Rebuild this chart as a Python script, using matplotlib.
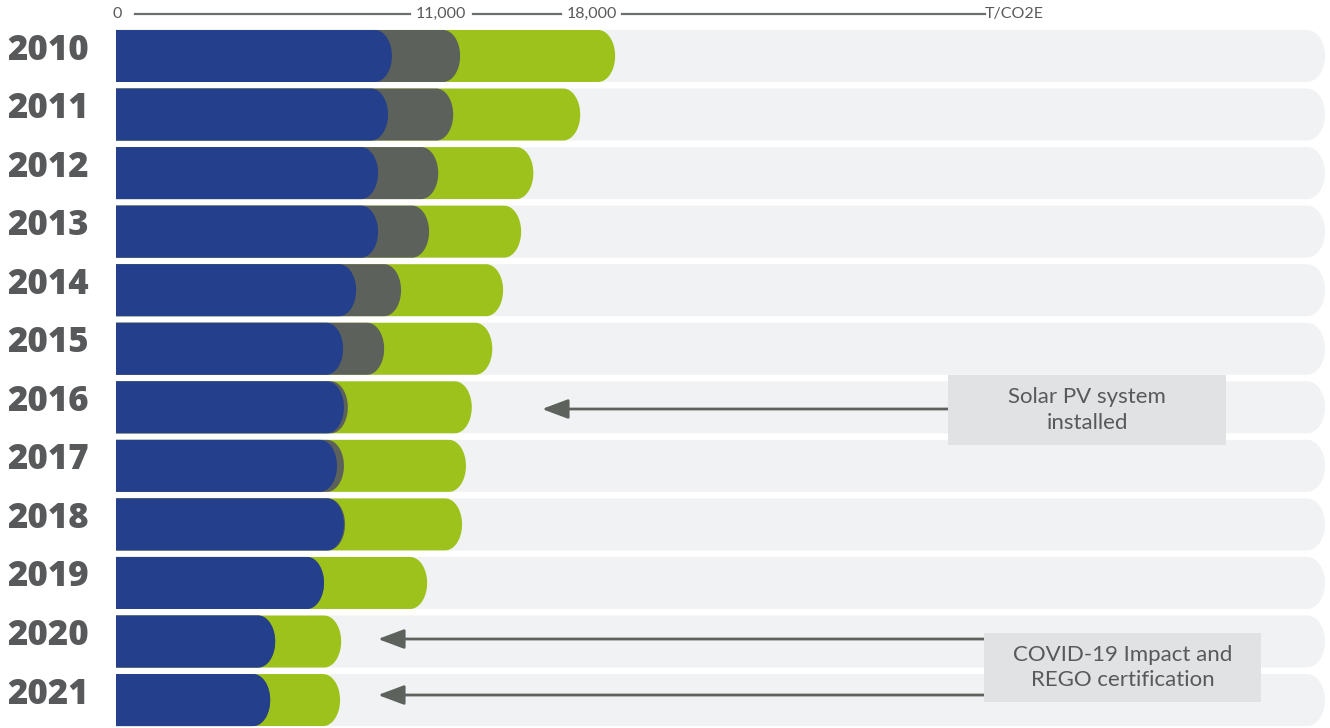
import numpy as np
import matplotlib
matplotlib.use("Agg")
import matplotlib.pyplot as plt
from matplotlib.patches import PathPatch, Rectangle
from matplotlib.path import Path

# ---- data (t CO2e) ----
years = ["2010", "2011", "2012", "2013", "2014", "2015",
         "2016", "2017", "2018", "2019", "2020", "2021"]
blue_vals = [9950, 9810, 9450, 9450, 8660, 8190, 8220, 7970, 8220, 7500, 5740, 5560]
gray_vals = [2460, 2350, 2170, 1840, 1620, 1480, 140, 250, 40, 0, 0, 0]
green_vals = [5590, 4580, 3430, 3320, 3680, 3900, 4470, 4400, 4220, 3720, 2380, 2520]
track_max = 43600
axis_labels = ["0", "11,000", "18,000", "T/CO2E"]
notes = [("Solar PV system\ninstalled", [6]),
         ("COVID-19 Impact and\nREGO certification", [10, 11])]

C_BLUE = "#243f8c"
C_GRAY = "#5c615b"
C_GREEN = "#9dc21c"
C_TRACK = "#f1f2f4"
C_TEXT = "#58595b"
C_BOX = "#e1e2e4"
C_ARROW = "#5d625d"

W, H = 1330, 728
fig = plt.figure(figsize=(W / 100, H / 100), dpi=100)
ax = fig.add_axes([116 / W, 0, (W - 116) / W, 1])
ax.set_xlim(0, 43780)
ax.set_ylim(11.477, -0.956)
ax.axis("off")

px = 43780 / (W - 116)       # data units per pixel
bar_h = 0.888
cap_rx = 17 * px


def rounded_bar(end, y, h, rx, color, z):
    t = np.linspace(np.pi / 2, -np.pi / 2, 40)
    flat = max(end - rx, 0)
    xs = [0, flat] + list(flat + rx * np.cos(t)) + [flat, 0, 0]
    ys = [y - h / 2, y - h / 2] + list(y - (h / 2) * np.sin(t)) + [y + h / 2, y + h / 2, y - h / 2]
    verts = np.column_stack([xs, ys])
    codes = [Path.MOVETO] + [Path.LINETO] * (len(verts) - 2) + [Path.CLOSEPOLY]
    ax.add_patch(PathPatch(Path(verts, codes), facecolor=color, edgecolor="none", zorder=z))


for i, yr in enumerate(years):
    b, g, gr = blue_vals[i], gray_vals[i], green_vals[i]
    rounded_bar(track_max, i, bar_h, 18 * px, C_TRACK, 1)
    rounded_bar(b + g + gr, i, bar_h, cap_rx, C_GREEN, 2)
    rounded_bar(b + g, i, bar_h, cap_rx, C_GRAY, 3)
    rounded_bar(b, i, bar_h, cap_rx, C_BLUE, 4)
    fig.text(48 / W, 1 - (46 + 58.55 * i) / H, yr, ha="center", va="center_baseline",
             fontsize=25, fontweight="heavy", color=C_TEXT, family="Open Sans")

# ---- top decorative axis ----
ty = 1 - 14 / H
label_x = [117, 441, 592, 1014]
for lab, x in zip(axis_labels, label_x):
    fig.text(x / W, ty, lab, ha="center", va="center", fontsize=11.5,
             color=C_TEXT, family="Lato")
for x0, x1 in [(135, 410), (473, 561), (622, 985)]:
    fig.add_artist(plt.Line2D([x0 / W, x1 / W], [ty, ty], color="#6b6f6b", lw=1.6))

# ---- annotations ----
boxes = {0: (948, 1226, 375, 445, 542), 1: (984, 1261, 633, 702, 378)}
arrow_y = {6: 409, 10: 639, 11: 695}
for k, (txt, rows) in enumerate(notes):
    x0, x1, y0, y1, head = boxes[k]
    dx0, dx1 = (x0 - 116) * px, (x1 - 116) * px
    dy0, dy1 = (y0 - 56) / 58.55, (y1 - 56) / 58.55
    for r in rows:
        ay = (arrow_y[r] - 56) / 58.55
        ax.annotate("", xy=((head - 116) * px, ay), xytext=(dx0, ay),
                    arrowprops=dict(arrowstyle="-|>,head_length=0.8,head_width=0.3",
                                    color=C_ARROW, lw=2, shrinkA=0, shrinkB=0,
                                    mutation_scale=20),
                    zorder=5)
    ax.add_patch(Rectangle((dx0, dy0), dx1 - dx0, dy1 - dy0, facecolor=C_BOX,
                           edgecolor="none", zorder=6))
    ax.text((dx0 + dx1) / 2, (dy0 + dy1) / 2, txt, ha="center", va="center",
            fontsize=16, color=C_TEXT, family="Lato",
            linespacing=1.35, zorder=7)

fig.savefig("out.png", dpi=100)
